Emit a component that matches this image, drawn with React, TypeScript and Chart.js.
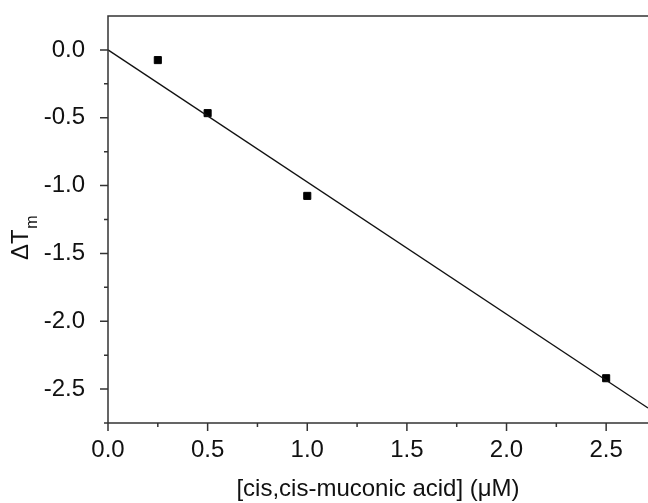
import React, { useEffect, useRef } from "react";
import { Chart, registerables } from "chart.js";

Chart.register(...registerables);

// Measured data
const concentrations = [0.25, 0.5, 1.0, 2.5];
const deltaTm = [-0.075, -0.466, -1.076, -2.42];

// Linear fit line endpoints
const fitX = [0, 2.71];
const fitY = [0, -2.64];

// Axis ticks
const xTicks = [0, 0.5, 1.0, 1.5, 2.0, 2.5];
const xMinorTicks = [0.25, 0.75, 1.25, 1.75, 2.25];
const yTicks = [0, -0.5, -1.0, -1.5, -2.0, -2.5];
const yMinorTicks = [-0.25, -0.75, -1.25, -1.75, -2.25];

const FONT = "'Liberation Sans', Arial, Helvetica, sans-serif";
const AXIS_COLOR = "#333";

const axesPlugin = {
  id: "customAxes",
  afterDraw(chart: any) {
    const { ctx, chartArea: a, scales } = chart;
    const x = scales.x;
    const y = scales.y;
    ctx.save();
    ctx.strokeStyle = AXIS_COLOR;
    ctx.lineWidth = 1.5;
    ctx.beginPath();
    // left axis
    ctx.moveTo(a.left, a.top);
    ctx.lineTo(a.left, a.bottom + 0.75);
    // bottom axis
    ctx.moveTo(a.left - 4, a.bottom);
    ctx.lineTo(a.right, a.bottom);
    // top border
    ctx.moveTo(a.left - 0.75, a.top);
    ctx.lineTo(a.right, a.top);
    // major ticks
    xTicks.forEach((v) => {
      const px = x.getPixelForValue(v);
      ctx.moveTo(px, a.bottom);
      ctx.lineTo(px, a.bottom + 8);
    });
    xMinorTicks.forEach((v) => {
      const px = x.getPixelForValue(v);
      ctx.moveTo(px, a.bottom);
      ctx.lineTo(px, a.bottom + 4);
    });
    yTicks.forEach((v) => {
      const py = y.getPixelForValue(v);
      ctx.moveTo(a.left, py);
      ctx.lineTo(a.left - 8, py);
    });
    yMinorTicks.forEach((v) => {
      const py = y.getPixelForValue(v);
      ctx.moveTo(a.left, py);
      ctx.lineTo(a.left - 4, py);
    });
    ctx.stroke();

    // y-axis title: ΔT with subscript m, rotated
    ctx.fillStyle = "#111";
    ctx.translate(28, 260);
    ctx.rotate(-Math.PI / 2);
    ctx.font = `24px ${FONT}`;
    ctx.textAlign = "left";
    ctx.textBaseline = "alphabetic";
    ctx.fillText("\u0394T", 0, 0);
    const w = ctx.measureText("\u0394T").width;
    ctx.font = `16px ${FONT}`;
    ctx.fillText("m", w + 0.5, 9);
    ctx.restore();
  },
};

export default function App() {
  const canvasRef = useRef<HTMLCanvasElement | null>(null);

  useEffect(() => {
    const canvas = canvasRef.current;
    if (!canvas) return;
    const chart = new Chart(canvas, {
      type: "scatter",
      data: {
        datasets: [
          {
            label: "fit",
            data: fitX.map((xv, i) => ({ x: xv, y: fitY[i] })),
            showLine: true,
            borderColor: "#111",
            borderWidth: 1.3,
            pointRadius: 0,
            fill: false,
          },
          {
            label: "data",
            data: concentrations.map((xv, i) => ({ x: xv, y: deltaTm[i] })),
            pointStyle: "rect",
            pointRadius: 5,
            pointBackgroundColor: "#000",
            pointBorderColor: "#000",
            pointBorderWidth: 1,
            showLine: false,
          },
        ],
      },
      options: {
        responsive: false,
        animation: false,
        devicePixelRatio: 1,
        layout: { autoPadding: false, padding: { top: 16, right: 0, left: 0, bottom: 0 } },
        plugins: {
          legend: { display: false },
          tooltip: { enabled: false },
        },
        scales: {
          x: {
            type: "linear",
            min: 0,
            max: 2.71,
            grid: { display: false },
            border: { display: false },
            afterBuildTicks: (scale: any) => {
              scale.ticks = xTicks.map((value) => ({ value }));
            },
            afterFit: (scale: any) => {
              scale.height = 80;
              scale.paddingLeft = 0;
              scale.paddingRight = 0;
            },
            ticks: {
              padding: 5,
              color: "#111",
              font: { family: FONT, size: 24 },
              callback: (v: any) => Number(v).toFixed(1),
            },
            title: {
              display: true,
              text: "[cis,cis-muconic acid] (\u03BCM)",
              color: "#111",
              font: { family: FONT, size: 24, lineHeight: 1.1 },
              padding: { top: 0, bottom: 0 },
            },
          },
          y: {
            type: "linear",
            min: -2.75,
            max: 0.25,
            grid: { display: false },
            border: { display: false },
            afterBuildTicks: (scale: any) => {
              scale.ticks = yTicks.map((value) => ({ value }));
            },
            afterFit: (scale: any) => {
              scale.width = 108;
              scale.paddingTop = 0;
              scale.paddingBottom = 0;
            },
            ticks: {
              padding: 15,
              color: "#111",
              font: { family: FONT, size: 24 },
              callback: (v: any) => Number(v).toFixed(1),
            },
          },
        },
      },
      plugins: [axesPlugin],
    });
    return () => chart.destroy();
  }, []);

  return (
    <div
      style={{
        position: "fixed",
        left: 0,
        top: 0,
        width: 648,
        height: 503,
        background: "#fff",
      }}
    >
      <canvas ref={canvasRef} width={648} height={503} style={{ width: 648, height: 503 }} />
    </div>
  );
}
